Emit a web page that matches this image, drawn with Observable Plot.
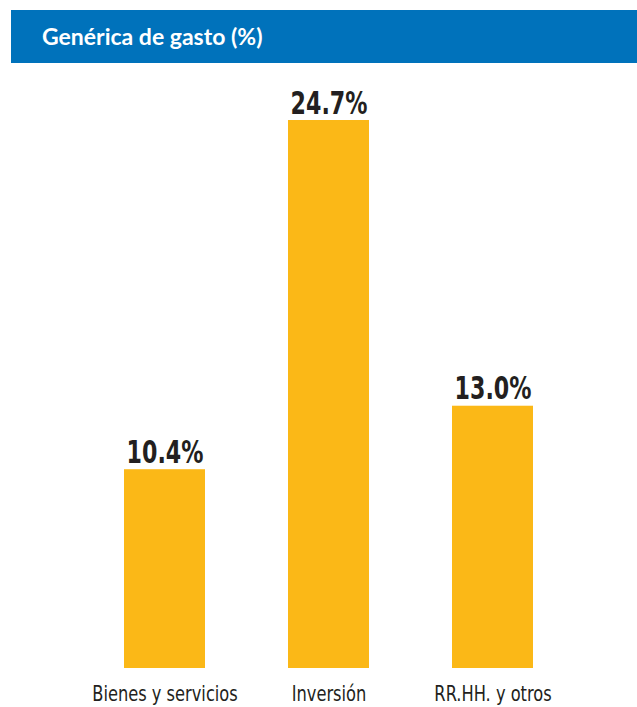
<!DOCTYPE html>
<html>
<head>
<meta charset="utf-8">
<script src="https://cdn.jsdelivr.net/npm/d3@7"></script>
<script src="https://cdn.jsdelivr.net/npm/@observablehq/plot@0.6"></script>
<style>
  html, body { margin: 0; padding: 0; background: #ffffff; }
  #wrap { position: relative; width: 637px; height: 707px; overflow: hidden; }
  #title {
    position: absolute; left: 11px; top: 10px; width: 626px; height: 53px;
    background: #0072BB; color: #ffffff;
    font-family: Lato, "Open Sans", sans-serif; font-weight: 700; font-size: 23px;
    line-height: 53px; padding-left: 31px; box-sizing: border-box;
  }
  #chart { position: absolute; left: 0; top: 63px; }
</style>
</head>
<body>
<div id="wrap">
  <div id="title">Genérica de gasto (%)</div>
  <div id="chart"></div>
</div>
<script>
const categories = ["Bienes y servicios", "Inversión", "RR.HH. y otros"];
const values = [10.4, 24.7, 13.0];
const valueLabels = ["10.4%", "24.7%", "13.0%"];

const data = categories.map((c, i) => ({category: c, value: values[i], label: valueLabels[i]}));

const narrow = "'Liberation Sans Narrow', 'DejaVu Sans Condensed', sans-serif";

const chart = Plot.plot({
  width: 637,
  height: 644,
  marginLeft: 41,
  marginRight: 22,
  marginTop: 57,
  marginBottom: 39,
  style: {fontFamily: narrow, background: "transparent", overflow: "visible"},
  x: {domain: categories, paddingInner: 0.508, paddingOuter: 0.4987, label: null},
  y: {domain: [2.26, 24.7], axis: null},
  marks: [
    Plot.barY(data, {x: "category", y: "value", fill: "#FBB817", clip: true}),
    Plot.text(data, {
      x: "category", y: "value", text: "label",
      lineAnchor: "bottom", dy: -7,
      fontSize: 32, fontWeight: 700, fill: "#231F20", fontFamily: narrow,
      className: "value-labels"
    }),
    Plot.axisX({tickSize: 0, tickPadding: 18, fontSize: 21, fill: "#231F20", label: null, className: "cat-labels"})
  ]
});
document.getElementById("chart").appendChild(chart);

function condense(selector, ratio) {
  d3.select(chart).selectAll(selector).each(function() {
    const w = this.getComputedTextLength();
    this.setAttribute("textLength", w * ratio);
    this.setAttribute("lengthAdjust", "spacingAndGlyphs");
  });
}
condense(".value-labels text", 0.77);
condense(".cat-labels text", 0.86);
</script>
</body>
</html>
